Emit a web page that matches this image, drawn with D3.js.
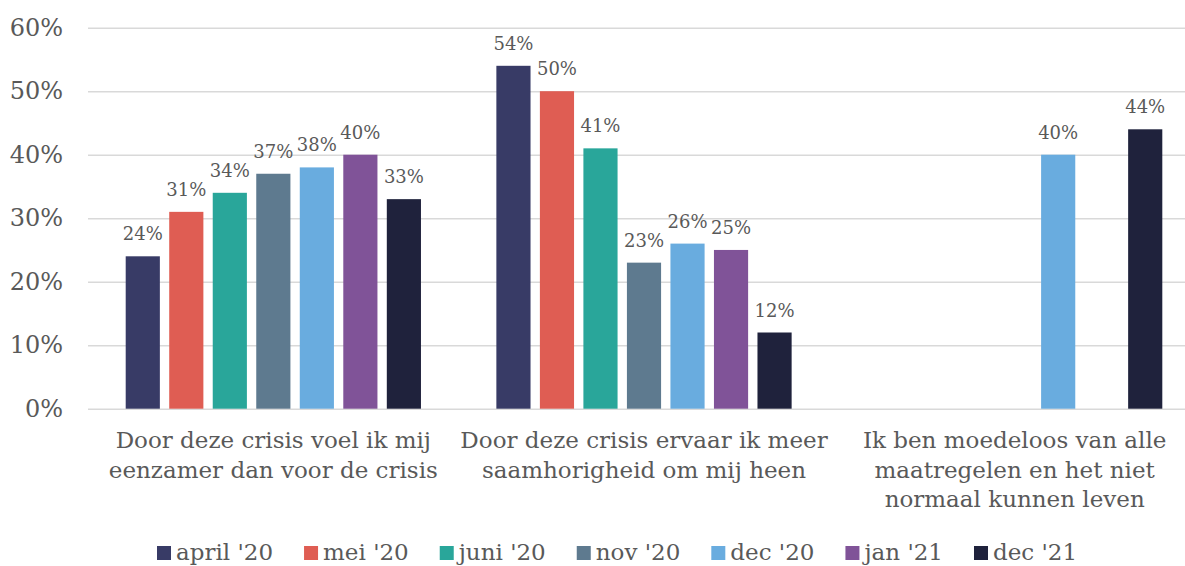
<!DOCTYPE html>
<html><head><meta charset="utf-8">
<script src="https://cdn.jsdelivr.net/npm/d3@7"></script>
<style>
body{margin:0;background:#fff;}
svg{display:block;}
text{font-family:"DejaVu Serif",serif;fill:#595959;}
</style></head>
<body><svg id="chart" width="1185" height="566"></svg>
<script>
const categories = [
  ["Door deze crisis voel ik mij","eenzamer dan voor de crisis"],
  ["Door deze crisis ervaar ik meer","saamhorigheid om mij heen"],
  ["Ik ben moedeloos van alle","maatregelen en het niet","normaal kunnen leven"]
];
const seriesNames = ["april '20","mei '20","juni '20","nov '20","dec '20","jan '21","dec '21"];
const seriesColors = ["#383b66","#df5d53","#29a69a","#5e7a8f","#69acdf","#805398","#1f223c"];
const april20 = [24, 54, null];
const mei20   = [31, 50, null];
const juni20  = [34, 41, null];
const nov20   = [37, 23, null];
const dec20   = [38, 26, 40];
const jan21   = [40, 25, null];
const dec21   = [33, 12, 44];
const seriesValues = [april20, mei20, juni20, nov20, dec20, jan21, dec21];
const yTicks = [0,10,20,30,40,50,60];

(function(){
const svg = d3.select("#chart");
const pLeft = 88, pRight = 1200, pTop = 27.7, pBottom = 408.7;

const x0 = d3.scaleBand().domain(d3.range(categories.length)).range([pLeft, pRight]).paddingInner(0).paddingOuter(0);
const x1 = d3.scaleBand().domain(d3.range(seriesNames.length)).range([37.7, x0.bandwidth()-37.7]).paddingInner(0.215).paddingOuter(0);
const y = d3.scaleLinear().domain([0,60]).range([pBottom, pTop]);

const yAxis = d3.axisLeft(y).tickValues(yTicks).tickSize(-(pRight-pLeft)).tickFormat(d => d + "%").tickPadding(25);
const ga = svg.append("g").attr("transform", `translate(${pLeft},0)`).call(yAxis);
ga.select(".domain").remove();
ga.selectAll(".tick line").attr("stroke", "#d9d9d9").attr("stroke-width", 1.5);
ga.selectAll(".tick text").attr("font-size", 24).attr("fill", "#595959").style("font-family", "DejaVu Serif");

const data = [];
seriesValues.forEach((vals, s) => vals.forEach((v, c) => { if (v != null) data.push({s, c, v}); }));

svg.append("g").selectAll("rect").data(data).join("rect")
  .attr("x", d => x0(d.c) + x1(d.s))
  .attr("width", x1.bandwidth())
  .attr("y", d => y(d.v))
  .attr("height", d => y(0) - y(d.v))
  .attr("fill", d => seriesColors[d.s]);

svg.append("g").selectAll("text").data(data).join("text")
  .attr("x", d => x0(d.c) + x1(d.s) + x1.bandwidth()/2)
  .attr("y", d => y(d.v) - 16)
  .attr("text-anchor", "middle")
  .attr("font-size", 18)
  .text(d => d.v + "%");

const cg = svg.append("g");
categories.forEach((lines, c) => {
  const t = cg.append("text").attr("text-anchor", "middle").attr("font-size", 23)
    .attr("transform", `translate(${x0(c) + x0.bandwidth()/2},448)`);
  lines.forEach((ln, i) => t.append("tspan").attr("x", 0).attr("y", i * 29.7).text(ln));
});

const lg = svg.append("g");
let lx = 157;
seriesNames.forEach((n, i) => {
  lg.append("rect").attr("x", lx).attr("y", 546).attr("width", 14).attr("height", 14).attr("fill", seriesColors[i]);
  const t = lg.append("text").attr("x", lx + 19).attr("y", 560).attr("font-size", 23).text(n);
  const w = t.node().getComputedTextLength();
  lx += 19 + w + 31;
});
})();
</script></body></html>
